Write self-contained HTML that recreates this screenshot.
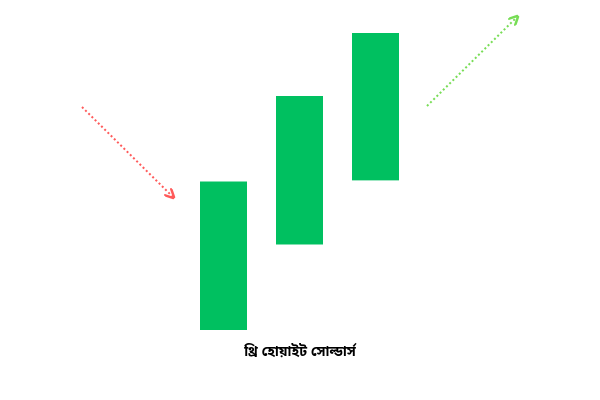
<!DOCTYPE html>
<html><head><meta charset="utf-8"><style>
html,body{margin:0;padding:0;background:#fff;width:600px;height:400px;overflow:hidden}
svg{display:block}
</style></head><body>
<svg id="chart" width="600" height="400" viewBox="0 0 600 400">
<defs>
<marker id="ar" viewBox="0 0 10 10" refX="8" refY="5" markerWidth="5" markerHeight="5" orient="auto"><path d="M0,0 L10,5 L0,10" fill="none" stroke="#ff5a5a" stroke-width="2.5"/></marker>
<marker id="ag" viewBox="0 0 10 10" refX="8" refY="5" markerWidth="5" markerHeight="5" orient="auto"><path d="M0,0 L10,5 L0,10" fill="none" stroke="#77dd55" stroke-width="2.5"/></marker>
</defs>
<line x1="82" y1="107" x2="173" y2="197" stroke="#ff5a5a" stroke-width="2" stroke-dasharray="2,2.5" marker-end="url(#ar)"/>
<line x1="427" y1="106" x2="517" y2="17" stroke="#77dd55" stroke-width="2" stroke-dasharray="2,2.5" marker-end="url(#ag)"/>
<g id="bars"></g>
<text x="300" y="356" text-anchor="middle" font-family="'Liberation Sans','Noto Sans Bengali',sans-serif" font-weight="bold" font-size="14" fill="#000">থ্রি হোয়াইট সোল্ডার্স</text>
</svg>
<script>
const candles = ["c1","c2","c3"];
const openVals = [10, 48, 76.5];
const closeVals = [76, 114, 142];
function yS(v){return 352.5 - v*2.25;}
function xS(i){return 200 + i*76;}
const g=document.getElementById('bars');
candles.forEach((c,i)=>{
  const r=document.createElementNS('http://www.w3.org/2000/svg','rect');
  const top=yS(closeVals[i]), bot=yS(openVals[i]);
  r.setAttribute('x',xS(i)); r.setAttribute('y',top);
  r.setAttribute('width',47); r.setAttribute('height',bot-top);
  r.setAttribute('fill','#00c060');
  
  
  g.appendChild(r);
});
</script>
</body></html>
